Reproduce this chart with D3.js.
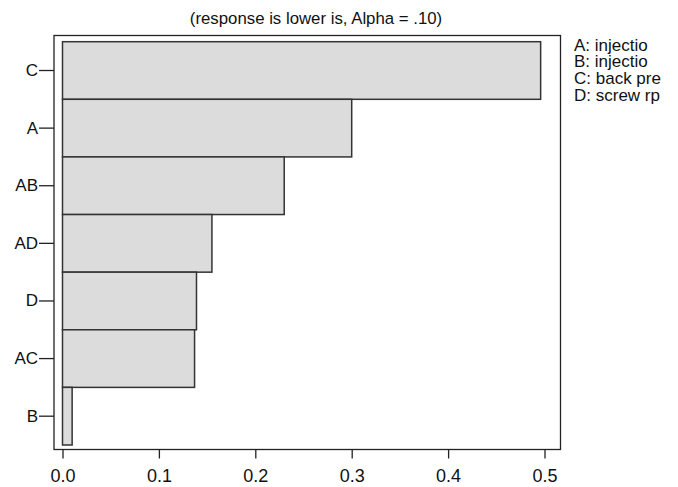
<!DOCTYPE html>
<html>
<head>
<meta charset="utf-8">
<script src="https://cdn.jsdelivr.net/npm/d3@7/dist/d3.min.js"></script>
<style>
  html, body { margin: 0; padding: 0; background: #fff; }
  svg { display: block; font-family: "Liberation Sans", Arial, sans-serif; }
</style>
</head>
<body>
<svg id="chart" width="678" height="487"></svg>
<script>
// Pareto chart of effects, largest at top
const terms = ["C", "A", "AB", "AD", "D", "AC", "B"];
const effects = [0.496, 0.300, 0.230, 0.155, 0.139, 0.137, 0.010];
const xTicks = [0.0, 0.1, 0.2, 0.3, 0.4, 0.5];
const legendItems = ["A: injectio", "B: injectio", "C: back pre", "D: screw rp"];
const titleText = "(response is lower is, Alpha = .10)";

const svg = d3.select("#chart");

const frame = { left: 54, right: 560.5, top: 35.5, bottom: 449.5 };

const x = d3.scaleLinear().domain([0, 0.5]).range([62.5, 544.5]);
const y = d3.scaleBand().domain(terms).range([41.7, 445]).paddingInner(0).paddingOuter(0);

const rows = terms.map((t, i) => ({ term: t, value: effects[i] }));

// bars
svg.append("g")
  .selectAll("rect")
  .data(rows)
  .join("rect")
  .attr("x", x(0))
  .attr("y", d => y(d.term))
  .attr("width", d => x(d.value) - x(0))
  .attr("height", y.bandwidth())
  .attr("fill", "#dcdcdc")
  .attr("stroke", "#333")
  .attr("stroke-width", 1.5);

// plot frame
svg.append("rect")
  .attr("x", frame.left)
  .attr("y", frame.top)
  .attr("width", frame.right - frame.left)
  .attr("height", frame.bottom - frame.top)
  .attr("fill", "none")
  .attr("stroke", "#222")
  .attr("stroke-width", 1.3);

// x axis
const xAxis = svg.append("g")
  .attr("transform", `translate(0,${frame.bottom})`)
  .call(d3.axisBottom(x).tickValues(xTicks).tickFormat(d3.format(".1f")).tickSize(9).tickPadding(11));
xAxis.select(".domain").remove();
xAxis.selectAll("line").attr("stroke", "#222").attr("stroke-width", 1.3);
xAxis.selectAll("text").attr("font-size", 18).attr("fill", "#111")
  .attr("font-family", "'Liberation Sans', Arial, sans-serif");

// y axis
const yAxis = svg.append("g")
  .attr("transform", `translate(${frame.left},0)`)
  .call(d3.axisLeft(y).tickSize(15).tickPadding(1));
yAxis.select(".domain").remove();
yAxis.selectAll("line").attr("stroke", "#222").attr("stroke-width", 1.3);
yAxis.selectAll("text").attr("font-size", 17).attr("fill", "#111")
  .attr("font-family", "'Liberation Sans', Arial, sans-serif");

// title
svg.append("text")
  .attr("x", 316)
  .attr("y", 24)
  .attr("text-anchor", "middle")
  .attr("font-size", 16.8)
  .attr("fill", "#111")
  .text(titleText);

// factor key
svg.append("g")
  .selectAll("text")
  .data(legendItems)
  .join("text")
  .attr("x", 574)
  .attr("y", (d, i) => 50.5 + i * 16.9)
  .attr("font-size", 17)
  .attr("fill", "#111")
  .attr("xml:space", "preserve")
  .text(d => d);
</script>
</body>
</html>
